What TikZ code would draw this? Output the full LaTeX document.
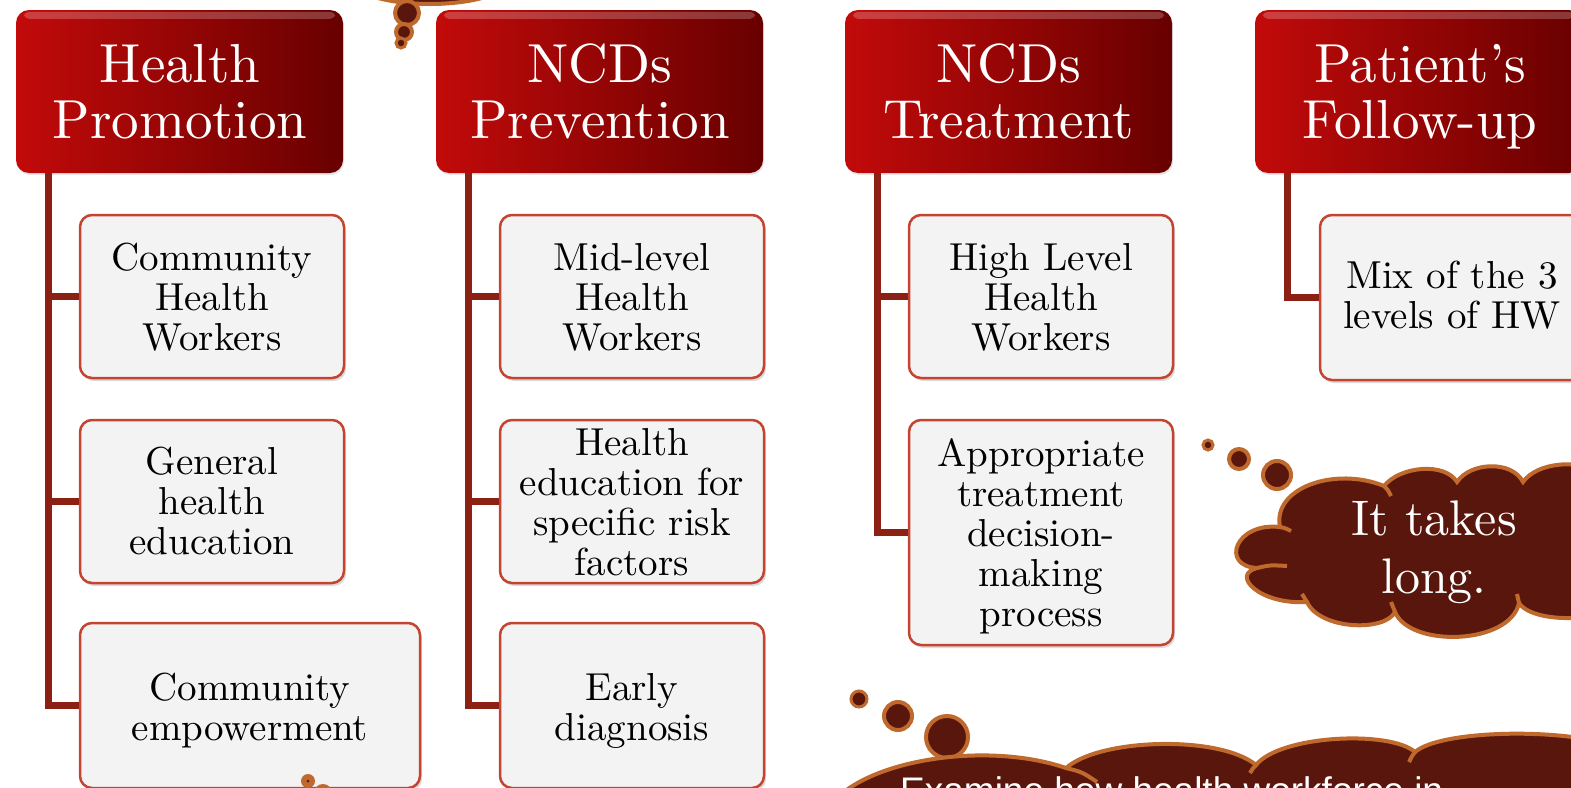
\documentclass[tikz,border=0pt]{standalone}
\usepackage{fontspec}
\setmainfont{lmroman10-regular}[Extension=.otf]
\newfontfamily\sansx{Liberation Sans}
\usetikzlibrary{shadows}
\definecolor{hdrL}{RGB}{194,10,10}
\definecolor{hdrR}{RGB}{104,0,0}
\definecolor{conncol}{RGB}{140,32,18}
\definecolor{boxline}{RGB}{196,68,50}
\definecolor{boxfill}{RGB}{243,243,243}
\definecolor{cloudfill}{RGB}{88,22,13}
\definecolor{cloudline}{RGB}{192,105,45}
\tikzset{
  hdr/.style={rounded corners=13pt, left color=hdrL, right color=hdrR,
    minimum width=327pt, minimum height=163pt, inner sep=0pt,
    drop shadow={shadow xshift=1pt, shadow yshift=-2pt, opacity=0.2}},
  hdrtext/.style={text=white, align=center, inner sep=0pt, anchor=north,
    font=\fontsize{55}{56}\selectfont},
  gloss/.style={fill=white, opacity=0.22, rounded corners=5pt},
  childbox/.style={draw=boxline, line width=2.5pt, fill=boxfill,
    rounded corners=12pt, inner sep=0pt, minimum width=264pt, minimum height=163pt,
    drop shadow={shadow xshift=2pt, shadow yshift=-3pt, opacity=0.28}},
  childtext/.style={text=black, align=center, inner sep=0pt, anchor=north,
    font=\fontsize{39}{40}\selectfont},
  conn/.style={draw=conncol, line width=7pt},
  cloudsh/.style={fill=cloudfill, draw=cloudline, line width=4pt},
  stub/.style={draw=cloudline, line width=4pt},
}
\begin{document}
\begin{tikzpicture}[x=1pt,y=-1pt]
\useasboundingbox (0,0) rectangle (1571,787);
\fill[white] (0,0) rectangle (1571,787);
\clip (0,0) rectangle (1571,787);

% headers
\node[hdr] (h1) at (179.5,91.5) {};
\node[hdr] (h2) at (599.5,91.5) {};
\node[hdr] (h3) at (1008.5,91.5) {};
\node[hdr] (h4) at (1418.5,91.5) {};
\foreach \h in {h1,h2,h3,h4}{
  \fill[gloss] ([xshift=8pt,yshift=-2pt]\h.north west) rectangle ([xshift=-8pt,yshift=-9pt]\h.north east);
}
\node[hdrtext] (th1) at (180,43.8) {Health\\Promotion};
\node[hdrtext] (th2) at (600,43.8) {NCDs\\Prevention};
\node[hdrtext] (th3) at (1008.5,43.8) {NCDs\\Treatment};
\node[hdrtext] (th4) at (1420,43.8) {Patient’s\\Follow-up};

% child boxes
\node[childbox] (b11) at (212,296.5) {};
\node[childbox] (b12) at (212,501.5) {};
\node[childbox, minimum width=340pt, minimum height=165pt] (b13) at (250,705.5) {};
\node[childbox] (b21) at (632,296.5) {};
\node[childbox] (b22) at (632,501.5) {};
\node[childbox, minimum height=165pt] (b23) at (632,705.5) {};
\node[childbox] (b31) at (1041,296.5) {};
\node[childbox, minimum height=225pt] (b32) at (1041,532.5) {};
\node[childbox, minimum height=165pt] (b41) at (1452,297.5) {};

% connectors
\foreach \h/\b in {h1/b11,h1/b12,h1/b13,h2/b21,h2/b22,h2/b23,h3/b31,h3/b32,h4/b41}{
  \draw[conn] ([xshift=33pt]\h.south west) |- (\b.west);
}

% child texts
\node[childtext] (t11) at (212,243) {Community\\Health\\Workers};
\node[childtext] (t12) at (212,447) {General\\health\\education};
\node[childtext] (t13) at (250,673) {Community\\empowerment};
\node[childtext] (t21) at (632,243) {Mid-level\\Health\\Workers};
\node[childtext] (t22) at (632,428) {Health\\education for\\specific risk\\factors};
\node[childtext] (t23) at (632,673) {Early\\diagnosis};
\node[childtext] (t31) at (1041,243) {High Level\\Health\\Workers};
\node[childtext] (t32) at (1041,438) {Appropriate\\treatment\\decision-\\making\\process};
\node[childtext] (t41) at (1452,261) {Mix of the 3\\levels of HW};

% top cloud (cut off)
\path[cloudsh] (352,-14) .. controls (380,10) and (480,10) .. (508,-14) -- cycle;
\path[cloudsh] (407,13) circle[radius=12];
\path[cloudsh] (404,32) circle[radius=8];
\path[cloudsh, line width=3pt] (401,43) circle[radius=5];

% small bubble near Community empowerment
\fill[cloudline] (308,781) circle[radius=7];
\fill[cloudfill] (308,781) circle[radius=1.5];
\fill[cloudline] (323,793) circle[radius=9];

% cloud "It takes long."
\path[cloudsh, line width=3pt] (1208,445) circle[radius=5];
\path[cloudsh] (1239,459) circle[radius=10];
\path[cloudsh] (1277,475) circle[radius=14];
\path[cloudsh] (1257,568) .. controls (1220,566) and (1235,522) .. (1280,527)
  .. controls (1272,488) and (1335,466) .. (1384,486)
  .. controls (1400,466) and (1445,462) .. (1457,482)
  .. controls (1470,462) and (1512,460) .. (1523,482)
  .. controls (1537,462) and (1580,458) .. (1605,475)
  -- (1620,540) -- (1605,612)
  .. controls (1580,622) and (1530,620) .. (1519,603)
  .. controls (1510,645) and (1410,648) .. (1395,612)
  .. controls (1385,632) and (1320,630) .. (1307,602)
  .. controls (1260,605) and (1230,575) .. (1257,568) -- cycle;
\draw[stub] (1257,568) .. controls (1270,565) .. (1287,566);
\draw[stub] (1280,527) .. controls (1285,528) .. (1291,531);
\draw[stub] (1384,486) .. controls (1388,490) .. (1391,496);
\draw[stub] (1395,612) .. controls (1393,607) .. (1391,602);
\draw[stub] (1519,603) .. controls (1518,599) .. (1517,594);
\draw[stub] (1307,602) .. controls (1305,598) .. (1302,594);
\node[text=white, align=center, inner sep=0pt, anchor=north,
  font=\fontsize{50}{58}\selectfont] (tc1) at (1434,500.3) {It takes\\long.};

% bottom cloud (cut off)
\path[cloudsh, line width=3pt] (859,699) circle[radius=8];
\path[cloudsh] (898,716) circle[radius=14];
\path[cloudsh] (947,737) circle[radius=21];
\path[cloudsh] (835,800) .. controls (875,758) and (990,742) .. (1066,768)
  .. controls (1100,738) and (1220,735) .. (1256,765)
  .. controls (1280,735) and (1390,730) .. (1415,752)
  .. controls (1440,730) and (1560,728) .. (1610,745)
  -- (1610,830) -- (835,830) -- cycle;
\draw[stub] (1066,768) .. controls (1082,772) .. (1097,782);
\draw[stub] (1256,765) .. controls (1253,768) .. (1250,773);
\draw[stub] (1415,752) .. controls (1412,756) .. (1409,762);
\node[text=white, inner sep=0pt, anchor=base west,
  font=\sansx\fontsize{37}{44}\selectfont] (tc2) at (900,803) {Examine how health workforce in};
\end{tikzpicture}
\end{document}
